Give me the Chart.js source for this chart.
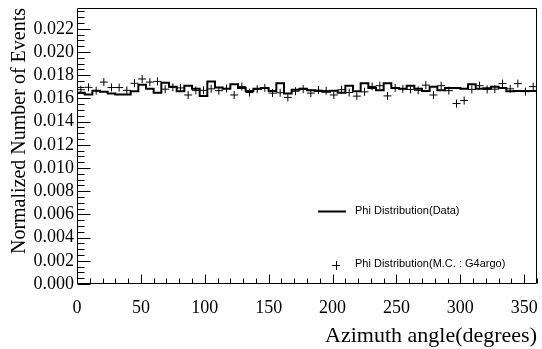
<!DOCTYPE html>
<html><head><meta charset="utf-8">
<script src="https://cdn.jsdelivr.net/npm/chart.js@4/dist/chart.umd.min.js"></script>
<style>html,body{margin:0;padding:0;background:#fff}#wrap{width:542px;height:349px}</style>
</head><body><div id="wrap"><canvas id="c" width="542" height="349"></canvas></div>
<script>
// ---- data ----
const binEdges = [0,6,12,18,24,30,36,42,48,54,60,66,72,78,84,90,96,102,108,114,120,126,132,138,144,150,156,162,168,174,180,186,192,198,204,210,216,222,228,234,240,246,252,258,264,270,276,282,288,294,300,306,312,318,324,330,336,342,348,354,360];
const dataValues = [0.01657,0.01649,0.01635,0.01667,0.01657,0.01643,0.01635,0.01635,0.01662,0.01718,0.01683,0.01649,0.01736,0.01702,0.01662,0.01710,0.01683,0.01622,0.01747,0.01694,0.01683,0.01723,0.01691,0.01665,0.01683,0.01691,0.01665,0.01731,0.01643,0.01675,0.01683,0.01670,0.01665,0.01657,0.01667,0.01649,0.01710,0.01662,0.01731,0.01691,0.01670,0.01731,0.01691,0.01683,0.01710,0.01683,0.01665,0.01702,0.01670,0.01691,0.01691,0.01683,0.01723,0.01683,0.01688,0.01702,0.01691,0.01662,0.01665,0.01665];
const mcAngles = [3,9,15,21,27,33,39,45,51,57,63,69,75,81,87,93,99,105,111,117,123,129,135,141,147,153,159,165,171,177,183,189,195,201,207,213,219,225,231,237,243,249,255,261,267,273,279,285,291,297,303,309,315,321,327,333,339,345,351,357];
const mcValues = [0.01675,0.01696,0.01667,0.01741,0.01694,0.01694,0.01670,0.01731,0.01768,0.01741,0.01747,0.01680,0.01696,0.01691,0.01630,0.01670,0.01670,0.01683,0.01667,0.01686,0.01630,0.01702,0.01651,0.01680,0.01691,0.01646,0.01649,0.01609,0.01662,0.01680,0.01646,0.01672,0.01667,0.01630,0.01675,0.01651,0.01620,0.01657,0.01704,0.01710,0.01622,0.01691,0.01683,0.01678,0.01670,0.01715,0.01630,0.01710,0.01667,0.01556,0.01582,0.01678,0.01710,0.01678,0.01680,0.01728,0.01683,0.01728,0.01659,0.01702];
const xTickValues = [0,50,100,150,200,250,300,350];
const xTickLabels = ['0','50','100','150','200','250','300','350'];
const yTickValues = [0,0.002,0.004,0.006,0.008,0.010,0.012,0.014,0.016,0.018,0.020,0.022];
const yTickLabels = ['0.000','0.002','0.004','0.006','0.008','0.010','0.012','0.014','0.016','0.018','0.020','0.022'];
const seriesLabels = ['Phi Distribution(Data)','Phi Distribution(M.C. : G4argo)'];
const xTitle = 'Azimuth angle(degrees)';
const yTitle = 'Normalized Number of Events';

// ---- build ----
const histPts = binEdges.map((x,i)=>({x:x, y:dataValues[Math.min(i,dataValues.length-1)]}));
const mcPts = mcAngles.map((x,i)=>({x:x, y:mcValues[i]}));
const SERIF = "'Liberation Serif','Times New Roman',serif";
const SANS = "'Liberation Sans',Arial,sans-serif";

const frameTicks = {
  id:'frameTicks',
  afterDraw(chart){
    const {ctx, chartArea:a, scales:{x,y}} = chart;
    ctx.save();
    ctx.strokeStyle='#000'; ctx.lineWidth=1;
    const L=Math.round(a.left)+0.5, R=Math.round(a.right)-0.5, T=Math.round(a.top)+0.5, B=Math.round(a.bottom)-0.5;
    ctx.beginPath();
    ctx.moveTo(L,T); ctx.lineTo(R,T); ctx.lineTo(R,B); ctx.lineTo(L,B); ctx.closePath();
    ctx.stroke();
    ctx.beginPath();
    for(let v=0; v<=360+1e-9; v+=10){
      const px=Math.round(x.getPixelForValue(v))+0.5;
      const len=(Math.round(v)%50===0)?9:5;
      ctx.moveTo(px,B); ctx.lineTo(px,B-len);
    }
    for(let k=0; k*0.0005<=y.max+1e-12; k++){
      const v=k*0.0005;
      const py=Math.round(y.getPixelForValue(v))+0.5;
      const len=(k%4===0)?13:7;
      ctx.moveTo(L,py); ctx.lineTo(L+len,py);
    }
    ctx.stroke();
    // legend
    const ds=chart.data.datasets;
    ctx.fillStyle='#000';
    ctx.font='11px '+SANS;
    ctx.textBaseline='middle'; ctx.textAlign='left';
    ctx.lineWidth=2;
    ctx.beginPath(); ctx.moveTo(318,211.5); ctx.lineTo(346,211.5); ctx.stroke();
    ctx.fillText(ds[0].label,355,211);
    ctx.lineWidth=1;
    ctx.beginPath(); ctx.moveTo(332,265.5); ctx.lineTo(340,265.5); ctx.moveTo(336.5,261); ctx.lineTo(336.5,270); ctx.stroke();
    ctx.fillText(ds[1].label,355,264);
    ctx.restore();
  }
};

new Chart(document.getElementById('c'), {
  type:'line',
  data:{datasets:[
    {label:seriesLabels[0], data:histPts, stepped:'after', borderColor:'#000', borderWidth:2, pointRadius:0, fill:false, order:2},
    {label:seriesLabels[1], type:'scatter', data:mcPts, showLine:false, pointStyle:'cross', pointRadius:4, borderColor:'#000', backgroundColor:'#000', borderWidth:1, order:1}
  ]},
  options:{
    responsive:false, animation:false, devicePixelRatio:1,
    layout:{padding:{top:8,right:2,left:0,bottom:0}},
    plugins:{legend:{display:false}, tooltip:{enabled:false}},
    scales:{
      x:{type:'linear', min:0, max:360, position:'bottom',
        grid:{display:false, drawTicks:false}, border:{display:false},
        afterBuildTicks:(s)=>{s.ticks=xTickValues.map(v=>({value:v}));},
        afterFit:(s)=>{s.height=65; s.paddingLeft=0; s.paddingRight=0;},
        ticks:{autoSkip:false, maxRotation:0, color:'#000', padding:13, font:{family:SERIF,size:18},
          callback:(v)=>{const i=xTickValues.indexOf(v); return i>=0?xTickLabels[i]:'';}},
        title:{display:true, text:xTitle, align:'end', color:'#000', font:{family:SERIF,size:22}, padding:{top:0,bottom:0}}
      },
      y:{type:'linear', min:0, max:0.0238, position:'left',
        grid:{display:false, drawTicks:false}, border:{display:false},
        afterBuildTicks:(s)=>{s.ticks=yTickValues.map(v=>({value:v}));},
        afterFit:(s)=>{s.width=77; s.paddingTop=0; s.paddingBottom=0;},
        ticks:{autoSkip:false, color:'#000', padding:3, font:{family:SERIF,size:18},
          callback:(v)=>{const i=yTickValues.findIndex(t=>Math.abs(t-v)<1e-9); return i>=0?yTickLabels[i]:'';}},
        title:{display:true, text:yTitle, align:'end', color:'#000', font:{family:SERIF,size:20}, padding:{top:8,bottom:0}}
      }
    }
  },
  plugins:[frameTicks]
});
</script></body></html>
